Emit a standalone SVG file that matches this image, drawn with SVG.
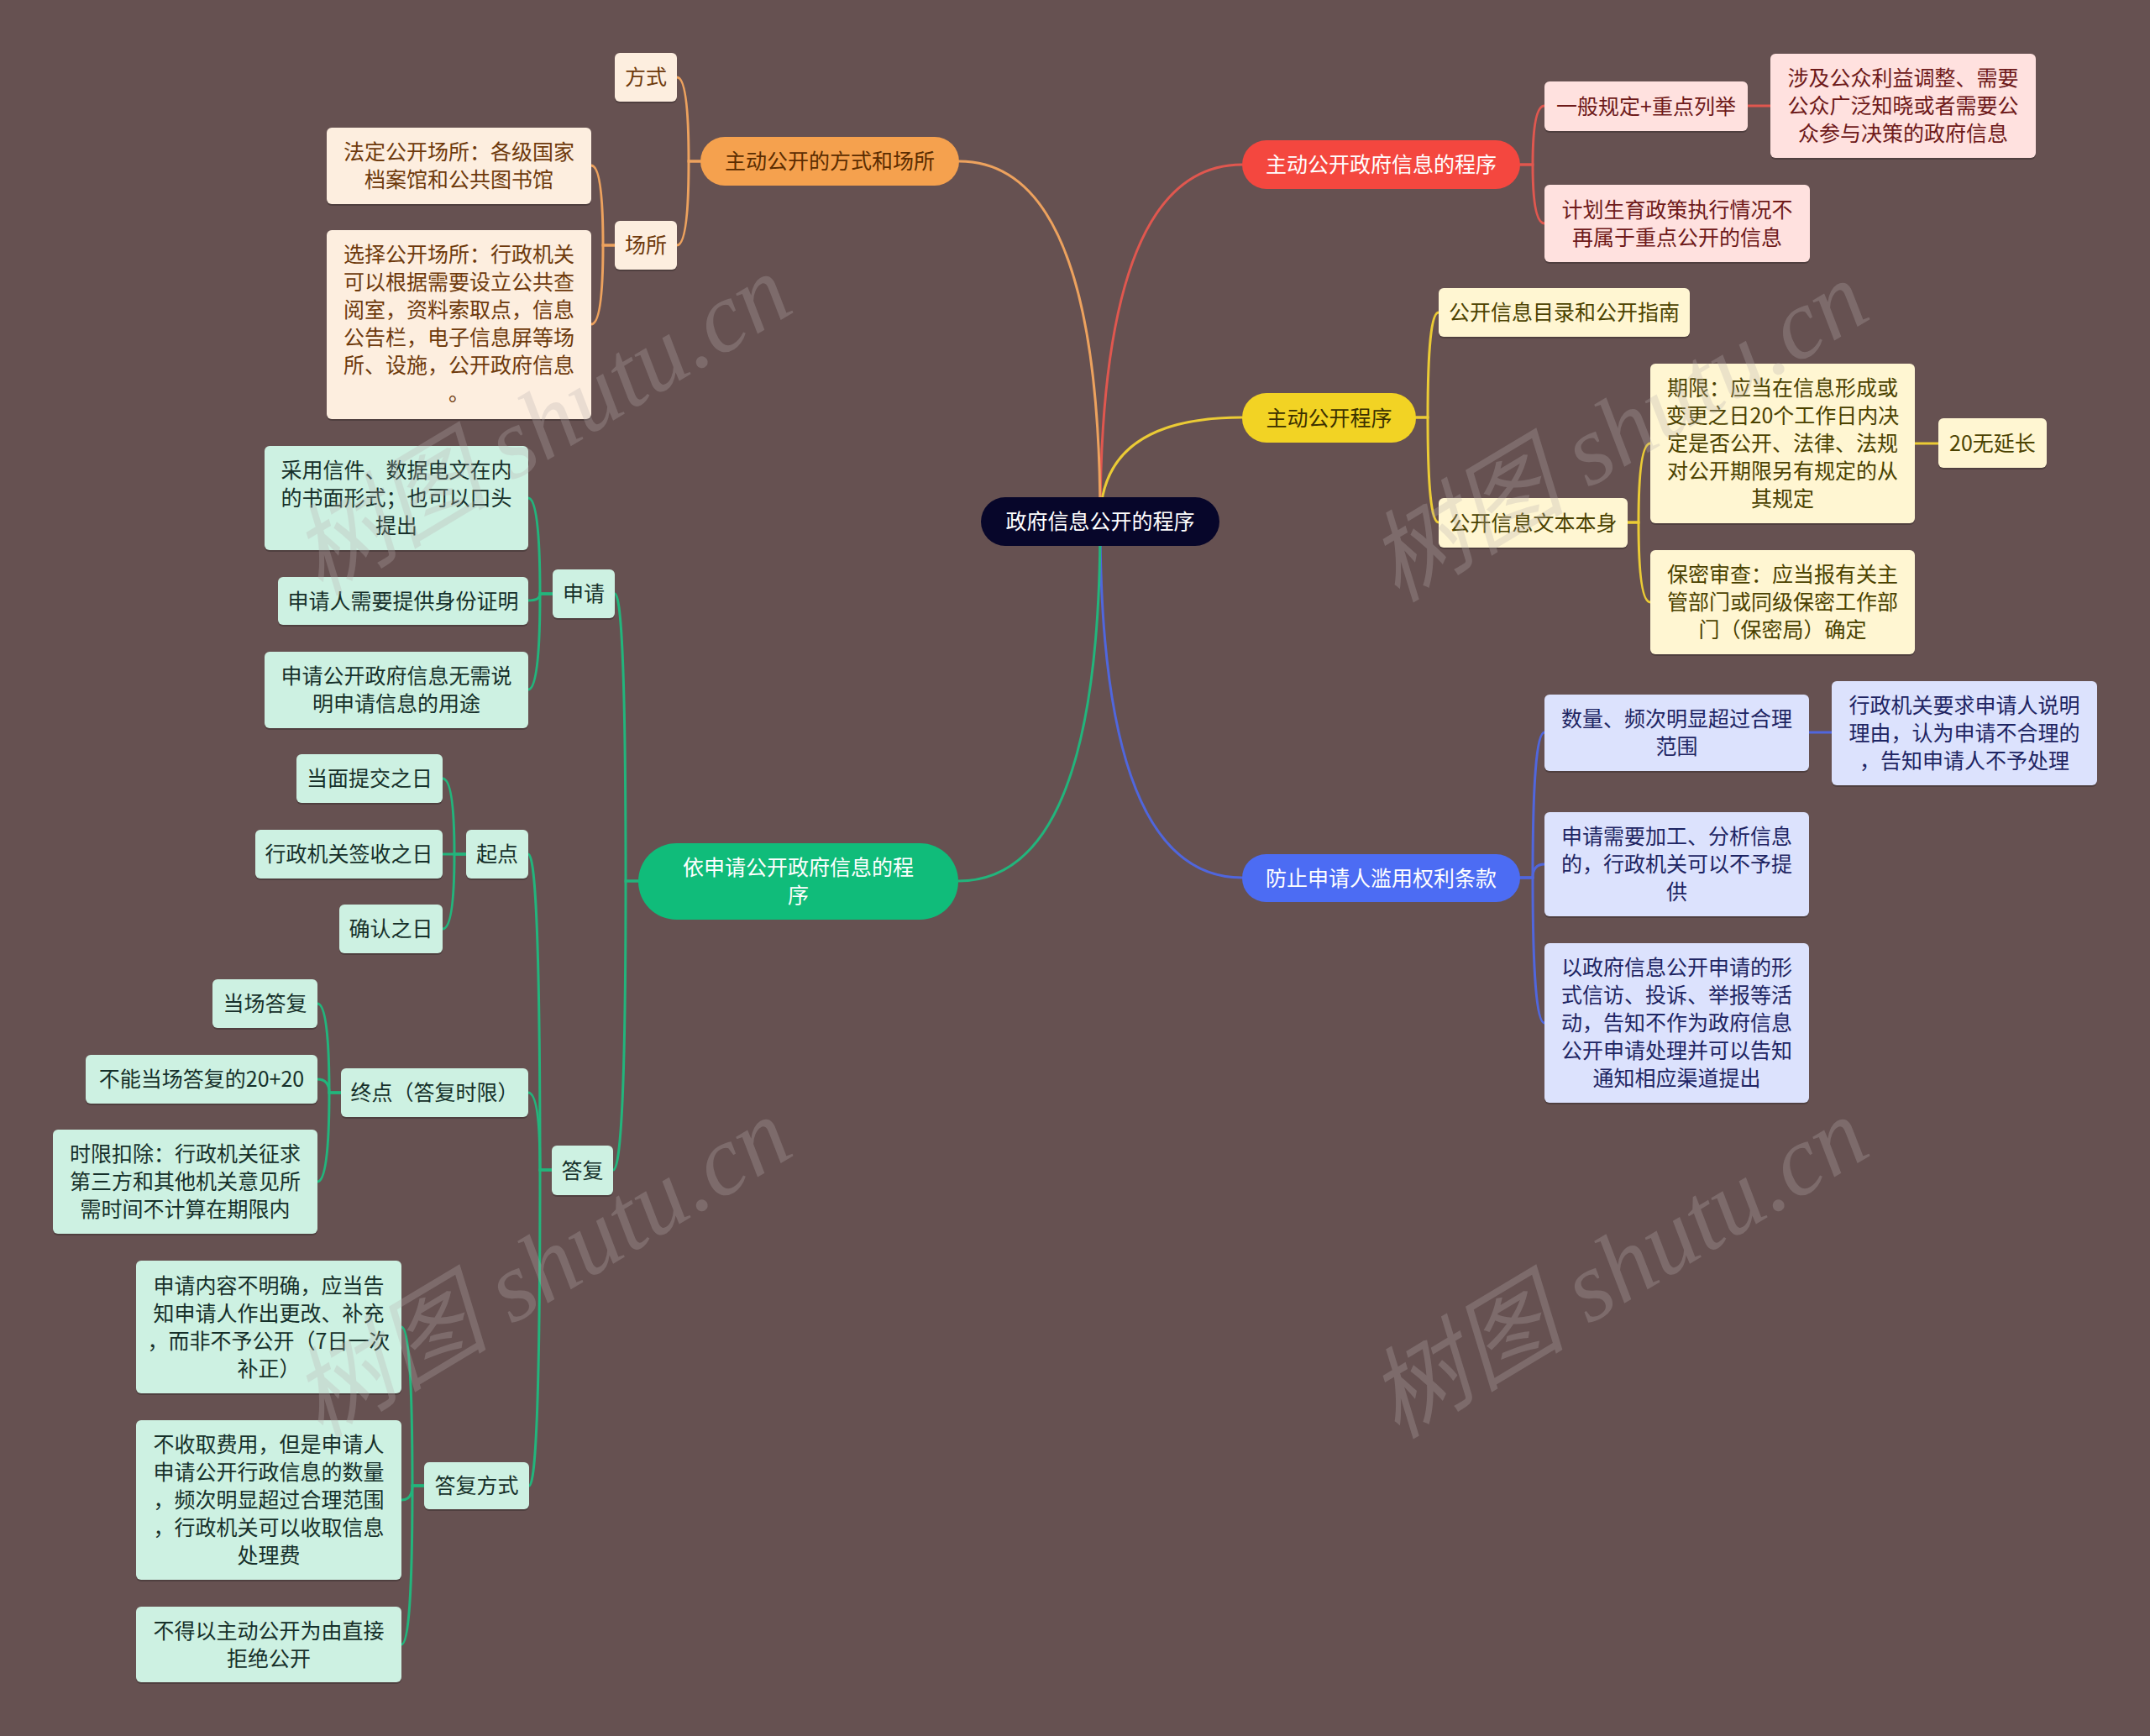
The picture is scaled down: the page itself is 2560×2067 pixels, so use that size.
<svg xmlns="http://www.w3.org/2000/svg" width="2560" height="2067" viewBox="0 0 2560 2067">
<style>
text{font-family:"Noto Sans CJK SC","Noto Sans",sans-serif;font-size:25px;text-anchor:middle;dominant-baseline:central}
text.t{transform:translateY(-2px)}
.sh{fill:rgba(0,0,0,0.22)}
.c{fill:none;stroke-width:3;stroke-linecap:round}
.cr{stroke:#E0574F}.cy{stroke:#EBCB35}.cb{stroke:#5066DD}.co{stroke:#EDA25E}.cg{stroke:#22B57C}
.nr{fill:#FFE1DF}.tr{fill:#6E1A1A}
.ny{fill:#FFF6D2}.ty{fill:#4B4200}
.nb{fill:#DCE2FD}.tb{fill:#1E2563}
.no{fill:#FDEEDF}.to{fill:#6E3A0C}
.ng{fill:#CDF1E2}.tg{fill:#16302A}
.wm{font-family:"Liberation Serif","Noto Sans CJK SC",serif;font-style:italic;font-size:118px;fill:#b8b0b0;opacity:0.28;text-anchor:middle}
</style>
<rect x="0" y="0" width="2560" height="2067" fill="#665151"/>

<g id="connectors">
<path class="c cr" d="M1310,621 Q1310,196 1479,196"/>
<path class="c cy" d="M1310,621 Q1310,497 1479,497"/>
<path class="c cb" d="M1310,621 Q1310,1045 1479,1045"/>
<path class="c co" d="M1310,621 Q1310,192 1142,192"/>
<path class="c cg" d="M1310,621 Q1310,1049 1141,1049"/>

<path class="c cr" d="M1810,196 H1825 Q1825,126 1839,126"/>
<path class="c cr" d="M1810,196 H1825 Q1825,266 1839,266"/>
<path class="c cr" d="M2081,126 H2108"/>

<path class="c cy" d="M1686,497 H1700 Q1700,372 1713,372"/>
<path class="c cy" d="M1686,497 H1700 Q1700,622 1713,622"/>
<path class="c cy" d="M1938,622 H1951 Q1951,528 1965,528"/>
<path class="c cy" d="M1938,622 H1951 Q1951,717 1965,717"/>
<path class="c cy" d="M2280,528 H2308"/>

<path class="c cb" d="M1810,1045 H1825 Q1825,872 1839,872"/>
<path class="c cb" d="M1810,1045 H1825 Q1825,1029 1839,1029"/>
<path class="c cb" d="M1810,1045 H1825 Q1825,1218 1839,1218"/>
<path class="c cb" d="M2154,872 H2181"/>

<path class="c co" d="M834,192 H820 Q820,92 806,92"/>
<path class="c co" d="M834,192 H820 Q820,292 806,292"/>
<path class="c co" d="M732,292 H718 Q718,197 704,197"/>
<path class="c co" d="M732,292 H718 Q718,386 704,386"/>

<path class="c cg" d="M760,1049 H745 Q745,707 732,707"/>
<path class="c cg" d="M760,1049 H745 Q745,1393 730,1393"/>
<path class="c cg" d="M658,707 H643 Q643,593 629,593"/>
<path class="c cg" d="M658,707 H643 Q643,715 629,715"/>
<path class="c cg" d="M658,707 H643 Q643,821 629,821"/>
<path class="c cg" d="M657,1393 H643 Q643,1017 629,1017"/>
<path class="c cg" d="M657,1393 H643 Q643,1301 629,1301"/>
<path class="c cg" d="M657,1393 H643 Q643,1769 630,1769"/>
<path class="c cg" d="M555,1017 H541 Q541,927 527,927"/>
<path class="c cg" d="M555,1017 H527"/>
<path class="c cg" d="M555,1017 H541 Q541,1106 527,1106"/>
<path class="c cg" d="M406,1301 H392 Q392,1195 378,1195"/>
<path class="c cg" d="M406,1301 H392 Q392,1285 378,1285"/>
<path class="c cg" d="M406,1301 H392 Q392,1407 378,1407"/>
<path class="c cg" d="M505,1769 H491 Q491,1580 478,1580"/>
<path class="c cg" d="M505,1769 H491 Q491,1786 478,1786"/>
<path class="c cg" d="M505,1769 H491 Q491,1958 478,1958"/>
</g>

<g id="root">
<rect x="1168" y="592" width="284" height="58" rx="29" fill="#07062A"/>
<text class="t" x="1310" y="621" fill="#ffffff">政府信息公开的程序</text>
</g>

<g id="n-red">
<rect x="1479" y="167" width="331" height="58" rx="29" fill="#F4473F"/>
<text class="t" x="1644.5" y="196" fill="#ffffff">主动公开政府信息的程序</text>
</g>
<g id="n-red-1">
<rect class="sh" x="1839" y="99" width="242" height="59" rx="6"/>
<rect class="nr" x="1839" y="97" width="242" height="59" rx="6"/>
<text class="t tr" x="1960" y="126.5">一般规定+重点列举</text>
</g>
<g id="n-red-1-1">
<rect class="sh" x="2108" y="66" width="316" height="124" rx="6"/>
<rect class="nr" x="2108" y="64" width="316" height="124" rx="6"/>
<text class="t tr"><tspan x="2266" y="93">涉及公众利益调整、需要</tspan><tspan x="2266" y="126">公众广泛知晓或者需要公</tspan><tspan x="2266" y="159">众参与决策的政府信息</tspan></text>
</g>
<g id="n-red-2">
<rect class="sh" x="1839" y="222" width="316" height="92" rx="6"/>
<rect class="nr" x="1839" y="220" width="316" height="92" rx="6"/>
<text class="t tr"><tspan x="1997" y="249.5">计划生育政策执行情况不</tspan><tspan x="1997" y="282.5">再属于重点公开的信息</tspan></text>
</g>

<g id="n-yel">
<rect x="1479" y="468" width="207" height="59" rx="29" fill="#F2D324"/>
<text class="t" x="1582.5" y="497.5" fill="#3B3000">主动公开程序</text>
</g>
<g id="n-yel-1">
<rect class="sh" x="1713" y="345" width="299" height="58" rx="6"/>
<rect class="ny" x="1713" y="343" width="299" height="58" rx="6"/>
<text class="t ty" x="1862.5" y="372">公开信息目录和公开指南</text>
</g>
<g id="n-yel-2">
<rect class="sh" x="1713" y="595" width="225" height="59" rx="6"/>
<rect class="ny" x="1713" y="593" width="225" height="59" rx="6"/>
<text class="t ty" x="1825.5" y="622.5">公开信息文本本身</text>
</g>
<g id="n-yel-2-1">
<rect class="sh" x="1965" y="435" width="315" height="190" rx="6"/>
<rect class="ny" x="1965" y="433" width="315" height="190" rx="6"/>
<text class="t ty"><tspan x="2122.5" y="462">期限：应当在信息形成或</tspan><tspan x="2122.5" y="495">变更之日20个工作日内决</tspan><tspan x="2122.5" y="528">定是否公开、法律、法规</tspan><tspan x="2122.5" y="561">对公开期限另有规定的从</tspan><tspan x="2122.5" y="594">其规定</tspan></text>
</g>
<g id="n-yel-2-1-1">
<rect class="sh" x="2308" y="500" width="129" height="59" rx="6"/>
<rect class="ny" x="2308" y="498" width="129" height="59" rx="6"/>
<text class="t ty" x="2372.5" y="527.5">20无延长</text>
</g>
<g id="n-yel-2-2">
<rect class="sh" x="1965" y="657" width="315" height="124" rx="6"/>
<rect class="ny" x="1965" y="655" width="315" height="124" rx="6"/>
<text class="t ty"><tspan x="2122.5" y="684">保密审查：应当报有关主</tspan><tspan x="2122.5" y="717">管部门或同级保密工作部</tspan><tspan x="2122.5" y="750">门（保密局）确定</tspan></text>
</g>

<g id="n-blue">
<rect x="1479" y="1017" width="331" height="57" rx="28.5" fill="#4C6CF3"/>
<text class="t" x="1644.5" y="1045.5" fill="#ffffff">防止申请人滥用权利条款</text>
</g>
<g id="n-blue-1">
<rect class="sh" x="1839" y="829" width="315" height="91" rx="6"/>
<rect class="nb" x="1839" y="827" width="315" height="91" rx="6"/>
<text class="t tb"><tspan x="1996.5" y="856">数量、频次明显超过合理</tspan><tspan x="1996.5" y="889">范围</tspan></text>
</g>
<g id="n-blue-1-1">
<rect class="sh" x="2181" y="813" width="316" height="124" rx="6"/>
<rect class="nb" x="2181" y="811" width="316" height="124" rx="6"/>
<text class="t tb"><tspan x="2339" y="840">行政机关要求申请人说明</tspan><tspan x="2339" y="873">理由，认为申请不合理的</tspan><tspan x="2339" y="906">，告知申请人不予处理</tspan></text>
</g>
<g id="n-blue-2">
<rect class="sh" x="1839" y="969" width="315" height="124" rx="6"/>
<rect class="nb" x="1839" y="967" width="315" height="124" rx="6"/>
<text class="t tb"><tspan x="1996.5" y="996">申请需要加工、分析信息</tspan><tspan x="1996.5" y="1029">的，行政机关可以不予提</tspan><tspan x="1996.5" y="1062">供</tspan></text>
</g>
<g id="n-blue-3">
<rect class="sh" x="1839" y="1125" width="315" height="190" rx="6"/>
<rect class="nb" x="1839" y="1123" width="315" height="190" rx="6"/>
<text class="t tb"><tspan x="1996.5" y="1152">以政府信息公开申请的形</tspan><tspan x="1996.5" y="1185">式信访、投诉、举报等活</tspan><tspan x="1996.5" y="1218">动，告知不作为政府信息</tspan><tspan x="1996.5" y="1251">公开申请处理并可以告知</tspan><tspan x="1996.5" y="1284">通知相应渠道提出</tspan></text>
</g>

<g id="n-org">
<rect x="834" y="163" width="308" height="58" rx="29" fill="#F5A14E"/>
<text class="t" x="988" y="192" fill="#5A2C00">主动公开的方式和场所</text>
</g>
<g id="n-org-1">
<rect class="sh" x="732" y="65" width="74" height="58" rx="6"/>
<rect class="no" x="732" y="63" width="74" height="58" rx="6"/>
<text class="t to" x="769" y="92">方式</text>
</g>
<g id="n-org-2">
<rect class="sh" x="732" y="265" width="74" height="58" rx="6"/>
<rect class="no" x="732" y="263" width="74" height="58" rx="6"/>
<text class="t to" x="769" y="292">场所</text>
</g>
<g id="n-org-2-1">
<rect class="sh" x="389" y="154" width="315" height="91" rx="6"/>
<rect class="no" x="389" y="152" width="315" height="91" rx="6"/>
<text class="t to"><tspan x="546.5" y="181">法定公开场所：各级国家</tspan><tspan x="546.5" y="214">档案馆和公共图书馆</tspan></text>
</g>
<g id="n-org-2-2">
<rect class="sh" x="389" y="276" width="315" height="225" rx="6"/>
<rect class="no" x="389" y="274" width="315" height="225" rx="6"/>
<text class="t to"><tspan x="546.5" y="303">选择公开场所：行政机关</tspan><tspan x="546.5" y="336">可以根据需要设立公共查</tspan><tspan x="546.5" y="369">阅室，资料索取点，信息</tspan><tspan x="546.5" y="402">公告栏，电子信息屏等场</tspan><tspan x="546.5" y="435">所、设施，公开政府信息</tspan><tspan x="546.5" y="468">。</tspan></text>
</g>

<g id="n-grn">
<rect x="760" y="1004" width="381" height="91" rx="45.5" fill="#10BC7A"/>
<text class="t" fill="#ffffff"><tspan x="950.5" y="1033">依申请公开政府信息的程</tspan><tspan x="950.5" y="1066">序</tspan></text>
</g>
<g id="n-grn-1">
<rect class="sh" x="658" y="680" width="74" height="58" rx="6"/>
<rect class="ng" x="658" y="678" width="74" height="58" rx="6"/>
<text class="t tg" x="695" y="707">申请</text>
</g>
<g id="n-grn-1-1">
<rect class="sh" x="315" y="533" width="314" height="124" rx="6"/>
<rect class="ng" x="315" y="531" width="314" height="124" rx="6"/>
<text class="t tg"><tspan x="472" y="560">采用信件、数据电文在内</tspan><tspan x="472" y="593">的书面形式；也可以口头</tspan><tspan x="472" y="626">提出</tspan></text>
</g>
<g id="n-grn-1-2">
<rect class="sh" x="331" y="689" width="298" height="57" rx="6"/>
<rect class="ng" x="331" y="687" width="298" height="57" rx="6"/>
<text class="t tg" x="480" y="715.5">申请人需要提供身份证明</text>
</g>
<g id="n-grn-1-3">
<rect class="sh" x="315" y="778" width="314" height="91" rx="6"/>
<rect class="ng" x="315" y="776" width="314" height="91" rx="6"/>
<text class="t tg"><tspan x="472" y="805">申请公开政府信息无需说</tspan><tspan x="472" y="838">明申请信息的用途</tspan></text>
</g>
<g id="n-grn-2">
<rect class="sh" x="657" y="1366" width="73" height="59" rx="6"/>
<rect class="ng" x="657" y="1364" width="73" height="59" rx="6"/>
<text class="t tg" x="693.5" y="1393.5">答复</text>
</g>
<g id="n-grn-2-1">
<rect class="sh" x="555" y="990" width="74" height="58" rx="6"/>
<rect class="ng" x="555" y="988" width="74" height="58" rx="6"/>
<text class="t tg" x="592" y="1017">起点</text>
</g>
<g id="n-grn-2-1-1">
<rect class="sh" x="353" y="900" width="174" height="58" rx="6"/>
<rect class="ng" x="353" y="898" width="174" height="58" rx="6"/>
<text class="t tg" x="440" y="927">当面提交之日</text>
</g>
<g id="n-grn-2-1-2">
<rect class="sh" x="304" y="990" width="223" height="58" rx="6"/>
<rect class="ng" x="304" y="988" width="223" height="58" rx="6"/>
<text class="t tg" x="415.5" y="1017">行政机关签收之日</text>
</g>
<g id="n-grn-2-1-3">
<rect class="sh" x="404" y="1079" width="123" height="58" rx="6"/>
<rect class="ng" x="404" y="1077" width="123" height="58" rx="6"/>
<text class="t tg" x="465.5" y="1106">确认之日</text>
</g>
<g id="n-grn-2-2">
<rect class="sh" x="406" y="1274" width="223" height="58" rx="6"/>
<rect class="ng" x="406" y="1272" width="223" height="58" rx="6"/>
<text class="t tg" x="517.5" y="1301">终点（答复时限）</text>
</g>
<g id="n-grn-2-2-1">
<rect class="sh" x="253" y="1168" width="125" height="58" rx="6"/>
<rect class="ng" x="253" y="1166" width="125" height="58" rx="6"/>
<text class="t tg" x="315.5" y="1195">当场答复</text>
</g>
<g id="n-grn-2-2-2">
<rect class="sh" x="102" y="1258" width="276" height="58" rx="6"/>
<rect class="ng" x="102" y="1256" width="276" height="58" rx="6"/>
<text class="t tg" x="240" y="1285">不能当场答复的20+20</text>
</g>
<g id="n-grn-2-2-3">
<rect class="sh" x="63" y="1347" width="315" height="124" rx="6"/>
<rect class="ng" x="63" y="1345" width="315" height="124" rx="6"/>
<text class="t tg"><tspan x="220.5" y="1374">时限扣除：行政机关征求</tspan><tspan x="220.5" y="1407">第三方和其他机关意见所</tspan><tspan x="220.5" y="1440">需时间不计算在期限内</tspan></text>
</g>
<g id="n-grn-2-3">
<rect class="sh" x="505" y="1743" width="125" height="56" rx="6"/>
<rect class="ng" x="505" y="1741" width="125" height="56" rx="6"/>
<text class="t tg" x="567.5" y="1769">答复方式</text>
</g>
<g id="n-grn-2-3-1">
<rect class="sh" x="162" y="1503" width="316" height="158" rx="6"/>
<rect class="ng" x="162" y="1501" width="316" height="158" rx="6"/>
<text class="t tg"><tspan x="320" y="1530.5">申请内容不明确，应当告</tspan><tspan x="320" y="1563.5">知申请人作出更改、补充</tspan><tspan x="320" y="1596.5">，而非不予公开（7日一次</tspan><tspan x="320" y="1629.5">补正）</tspan></text>
</g>
<g id="n-grn-2-3-2">
<rect class="sh" x="162" y="1693" width="316" height="190" rx="6"/>
<rect class="ng" x="162" y="1691" width="316" height="190" rx="6"/>
<text class="t tg"><tspan x="320" y="1720">不收取费用，但是申请人</tspan><tspan x="320" y="1753">申请公开行政信息的数量</tspan><tspan x="320" y="1786">，频次明显超过合理范围</tspan><tspan x="320" y="1819">，行政机关可以收取信息</tspan><tspan x="320" y="1852">处理费</tspan></text>
</g>
<g id="n-grn-2-3-3">
<rect class="sh" x="162" y="1915" width="316" height="90" rx="6"/>
<rect class="ng" x="162" y="1913" width="316" height="90" rx="6"/>
<text class="t tg"><tspan x="320" y="1941.5">不得以主动公开为由直接</tspan><tspan x="320" y="1974.5">拒绝公开</tspan></text>
</g>

<g id="watermark">
<text class="wm" transform="translate(645,506) rotate(-31)">树图 shutu.cn</text>
<text class="wm" transform="translate(1927,514) rotate(-31)">树图 shutu.cn</text>
<text class="wm" transform="translate(645,1510) rotate(-31)">树图 shutu.cn</text>
<text class="wm" transform="translate(1927,1510) rotate(-31)">树图 shutu.cn</text>
</g>
</svg>
